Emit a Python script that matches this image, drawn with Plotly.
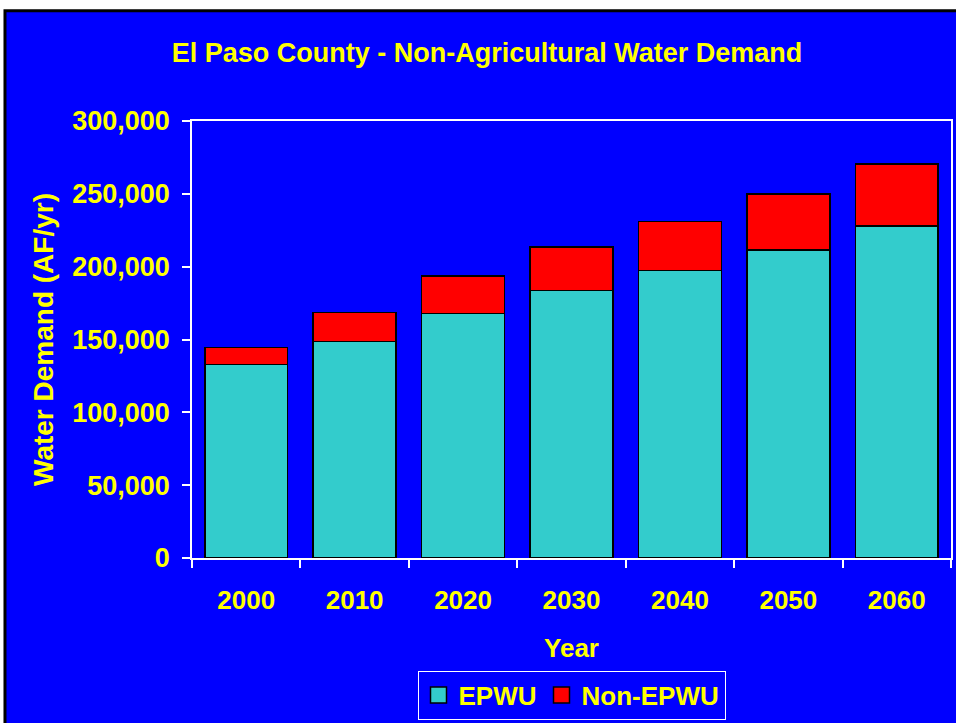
import plotly.graph_objects as go

years = ["2000", "2010", "2020", "2030", "2040", "2050", "2060"]
epwu = [133000, 148500, 168000, 183500, 197500, 211500, 228000]
non_epwu = [11500, 20000, 25500, 30000, 33500, 38500, 42500]

yellow = "#FFFF00"
blue = "#0000FF"
teal = "#33CCCC"
red = "#FF0000"
font_family = "Liberation Sans, Arial, sans-serif"

epwu_trace = go.Bar(
    x=years,
    y=epwu,
    name="EPWU",
    showlegend=False,
    marker=dict(color=teal, line=dict(color="black", width=1.5)),
)

non_epwu_trace = go.Bar(
    x=years,
    y=non_epwu,
    name="Non-EPWU",
    showlegend=False,
    marker=dict(color=red, line=dict(color="black", width=1.5)),
)

# legend-only entries so the swatches can be bigger squares
legend_traces = []
for name, color in [("EPWU", teal), ("Non-EPWU", red)]:
    legend_traces.append(go.Scatter(
        x=[None],
        y=[None],
        mode="markers",
        name=name,
        marker=dict(symbol="square", size=17, color=color,
                    line=dict(color="black", width=1.5)),
    ))

fig = go.Figure(data=[epwu_trace, non_epwu_trace] + legend_traces)

# blue slide frame with a black edge, white page showing at top/left
fig.add_shape(
    type="rect",
    xref="paper", yref="paper",
    x0=-0.2464, x1=1.2, y0=-0.6, y1=1.2523,
    fillcolor=blue,
    line=dict(color="black", width=3),
    layer="below",
)

fig.update_layout(
    width=956,
    height=723,
    barmode="stack",
    bargap=0.236,
    paper_bgcolor="white",
    plot_bgcolor=blue,
    margin=dict(l=192, r=3, t=121, b=164),
    font=dict(family=font_family, color=yellow, size=26, weight="bold"),
    title=dict(
        text="El Paso County - Non-Agricultural Water Demand",
        font=dict(size=27, color=yellow, weight="bold"),
        x=0.5095,
        xanchor="center",
        y=0.928,
        yanchor="middle",
    ),
    xaxis=dict(
        type="category",
        showgrid=False,
        zeroline=False,
        showline=True,
        linecolor="white",
        linewidth=1.5,
        mirror=True,
        ticks="outside",
        tickson="boundaries",
        ticklen=8,
        tickcolor="white",
        tickwidth=1.5,
        tickfont=dict(size=26, color=yellow, weight="bold"),
        ticklabelstandoff=18,
        title=dict(text="Year", standoff=25,
                   font=dict(size=26, color=yellow, weight="bold")),
    ),
    yaxis=dict(
        range=[0, 300000],
        dtick=50000,
        tickformat=",d",
        showgrid=False,
        zeroline=False,
        showline=True,
        linecolor="white",
        linewidth=1.5,
        mirror=True,
        ticks="outside",
        ticklen=8,
        tickcolor="white",
        tickwidth=1.5,
        tickfont=dict(size=27, color=yellow, weight="bold"),
        ticklabelstandoff=7,
        title=dict(text="Water Demand (AF/yr)", standoff=10,
                   font=dict(size=28, color=yellow, weight="bold")),
    ),
    legend=dict(
        orientation="h",
        x=0.5,
        xanchor="center",
        y=-0.37,
        yanchor="bottom",
        bgcolor=blue,
        bordercolor="white",
        borderwidth=1,
        font=dict(size=26, color=yellow, weight="bold"),
        traceorder="normal",
    ),
    showlegend=True,
)

fig.write_html(
    "out.html",
    config={"displayModeBar": False},
    post_script="document.body.style.margin='0px';document.body.style.overflow='hidden';",
)
